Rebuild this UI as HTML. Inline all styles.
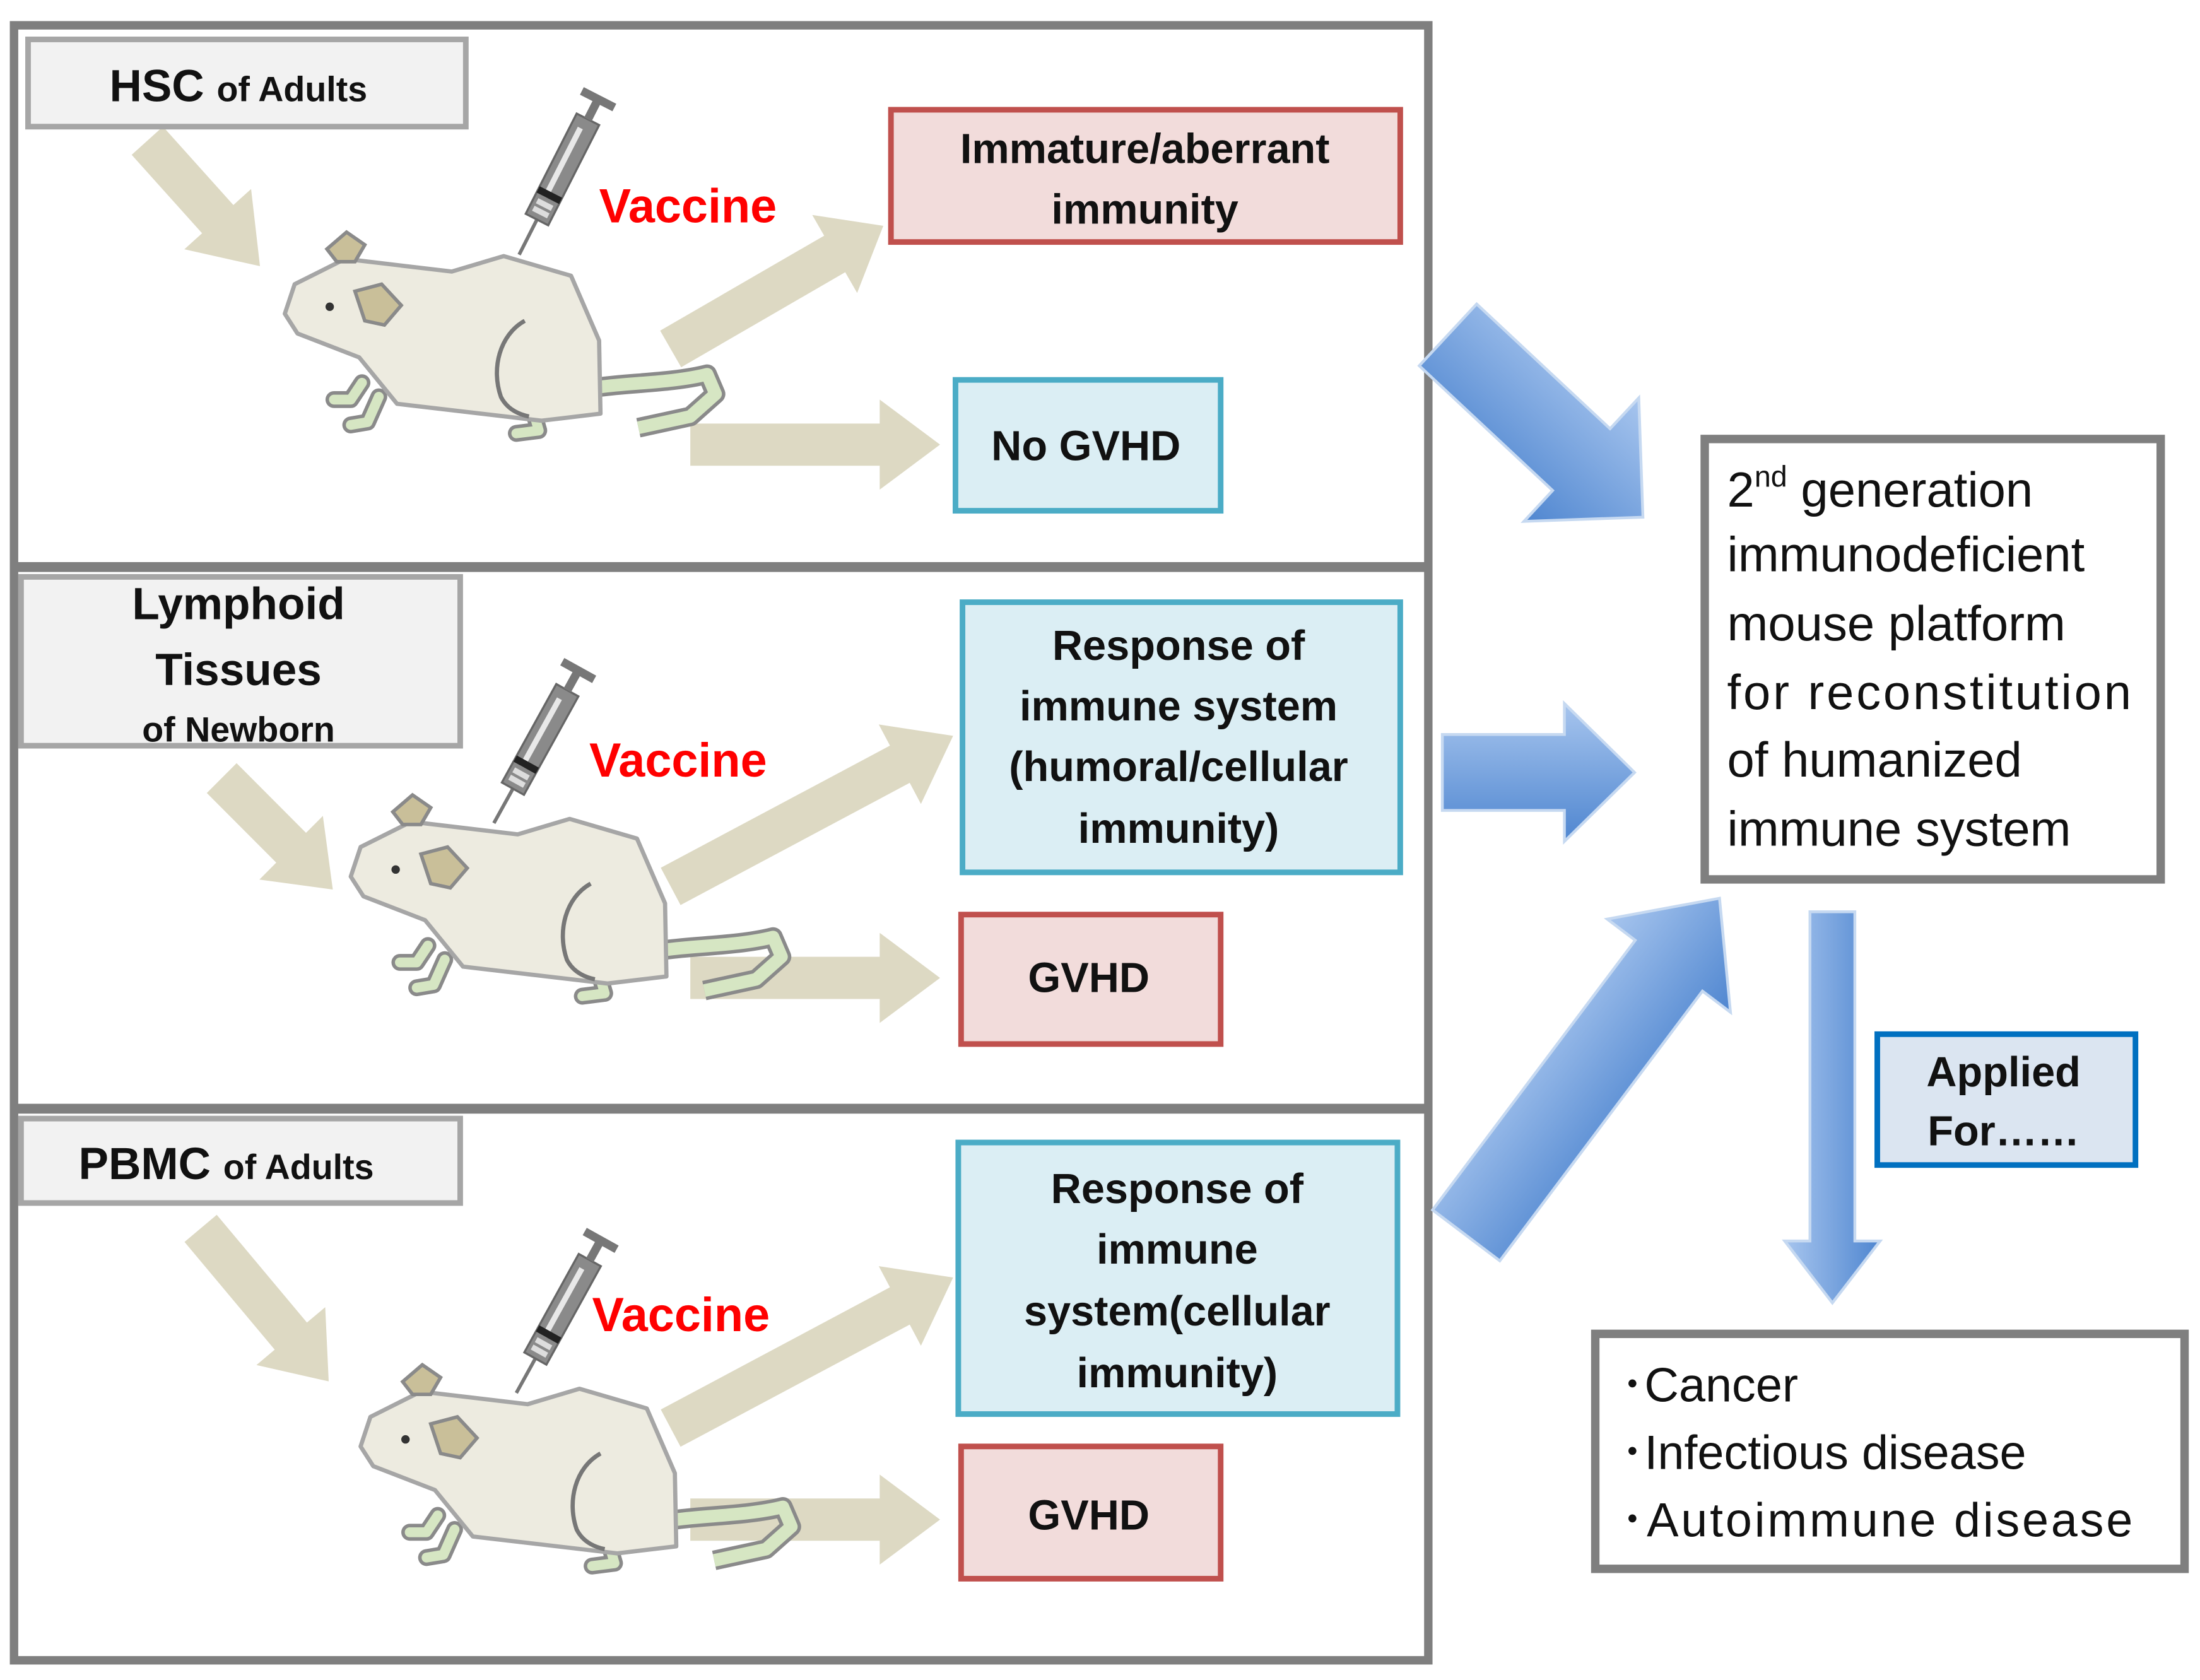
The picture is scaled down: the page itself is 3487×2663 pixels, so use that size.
<!DOCTYPE html>
<html><head><meta charset="utf-8"><style>
html,body{margin:0;padding:0;background:#fff}
svg{display:block}
text{font-family:"Liberation Sans",sans-serif}
</style></head><body>
<svg width="3487" height="2663" viewBox="0 0 1568 1194" preserveAspectRatio="none" xmlns="http://www.w3.org/2000/svg">
<defs>
<linearGradient id="bg" x1="0" y1="0" x2="0" y2="1"><stop offset="0" stop-color="#a7c5ee"/><stop offset="1" stop-color="#4f86d0"/></linearGradient>
<linearGradient id="bgh" x1="0" y1="0" x2="1" y2="0"><stop offset="0" stop-color="#a7c5ee"/><stop offset="1" stop-color="#4f86d0"/></linearGradient>
<g id="mouse">
  <path d="M428,275 C450,272 480,272 504,266 L510,280 L492,296 L455,304" fill="none" stroke="#8a8a8a" stroke-width="14" stroke-linejoin="round"/>
  <path d="M428,275 C450,272 480,272 504,266 L510,280 L492,296 L455,304" fill="none" stroke="#d6e6c3" stroke-width="9" stroke-linejoin="round"/>
  <path d="M258,272 L250,284 L238,284 M270,282 L262,300 L250,302 M380,292 L384,306 L368,308" fill="none" stroke="#8a8a8a" stroke-width="12" stroke-linejoin="round" stroke-linecap="round"/>
  <path d="M258,272 L250,284 L238,284 M270,282 L262,300 L250,302 M380,292 L384,306 L368,308" fill="none" stroke="#d6e6c3" stroke-width="7" stroke-linejoin="round" stroke-linecap="round"/>
  <polygon points="203,223 210,202 246,184 322,193 359,182 407,196 427,242 428,294 386,299 283,287 256,254 212,237" fill="#edebe0" stroke="#a6a6a6" stroke-width="3" stroke-linejoin="round"/>
  <polygon points="233,177 247,165 260,174 253,186 240,186" fill="#c9bf99" stroke="#8a8a8a" stroke-width="2.5"/>
  <polygon points="253,207 272,202 286,217 274,231 260,228" fill="#c9bf99" stroke="#8a8a8a" stroke-width="2.5"/>
  <circle cx="235" cy="218" r="3" fill="#333"/>
  <path d="M374,228 C356,238 350,262 357,282 C362,292 372,295 377,296" fill="none" stroke="#777" stroke-width="3"/>
</g>
<g id="syr">
  <line x1="0" y1="0" x2="0" y2="-28" stroke="#777" stroke-width="2.5"/>
  <rect x="-9" y="-108" width="18" height="80" fill="#8a8a8a" stroke="#666" stroke-width="1.5"/>
  <rect x="-4" y="-100" width="4" height="55" fill="#e8e8e8"/>
  <rect x="-9" y="-50" width="18" height="5" fill="#222"/>
  <rect x="-6" y="-42" width="12" height="4" fill="#ddd"/>
  <rect x="-6" y="-36" width="12" height="4" fill="#ddd"/>
  <rect x="-3" y="-122" width="6" height="14" fill="#777"/>
  <rect x="-13" y="-127" width="26" height="6" fill="#777"/>
</g>
</defs>

<rect x="10" y="18" width="1008" height="1162" fill="none" stroke="#7f7f7f" stroke-width="6"/>
<line x1="10" y1="403" x2="1018" y2="403" stroke="#7f7f7f" stroke-width="7"/>
<line x1="10" y1="788" x2="1018" y2="788" stroke="#7f7f7f" stroke-width="7"/>

<g fill="#ddd9c3">
<polygon transform="translate(105,100) rotate(48)" points="0,-15 75,-15 75,-32 120,0 75,32 75,15 0,15"/>
<polygon transform="translate(478,248) rotate(-30)" points="0,-15 135,-15 135,-32 175,0 135,32 135,15 0,15"/>
<polygon transform="translate(492,316)" points="0,-15 135,-15 135,-32 178,0 135,32 135,15 0,15"/>
<polygon transform="translate(158,553) rotate(45)" points="0,-15 70,-15 70,-32 112,0 70,32 70,15 0,15"/>
<polygon transform="translate(478,630) rotate(-28)" points="0,-15 185,-15 185,-32 228,0 185,32 185,15 0,15"/>
<polygon transform="translate(492,695)" points="0,-15 135,-15 135,-32 178,0 135,32 135,15 0,15"/>
<polygon transform="translate(143,873) rotate(50)" points="0,-15 100,-15 100,-32 142,0 100,32 100,15 0,15"/>
<polygon transform="translate(478,1015) rotate(-28)" points="0,-15 185,-15 185,-32 228,0 185,32 185,15 0,15"/>
<polygon transform="translate(492,1080)" points="0,-15 135,-15 135,-32 178,0 135,32 135,15 0,15"/>
</g>

<use href="#mouse"/>
<use href="#mouse" transform="translate(47,400)"/>
<use href="#mouse" transform="translate(54,805)"/>
<use href="#syr" transform="translate(370,181) rotate(27)"/>
<use href="#syr" transform="translate(352,585) rotate(29)"/>
<use href="#syr" transform="translate(368,990) rotate(29)"/>

<rect x="20" y="28" width="312" height="62" fill="#f2f2f2" stroke="#a6a6a6" stroke-width="4"/>
<text x="78" y="72" font-size="32" font-weight="bold" fill="#111">HSC <tspan font-size="25">of Adults</tspan></text>
<rect x="15" y="410" width="313" height="120" fill="#f2f2f2" stroke="#a6a6a6" stroke-width="4"/>
<text x="170" y="440" font-size="32" font-weight="bold" text-anchor="middle" fill="#111">Lymphoid</text>
<text x="170" y="487" font-size="32" font-weight="bold" text-anchor="middle" fill="#111">Tissues</text>
<text x="170" y="527" font-size="25" font-weight="bold" text-anchor="middle" fill="#111">of Newborn</text>
<rect x="15" y="795" width="313" height="60" fill="#f2f2f2" stroke="#a6a6a6" stroke-width="4"/>
<text x="56" y="838" font-size="32" font-weight="bold" fill="#111">PBMC <tspan font-size="25">of Adults</tspan></text>

<g font-size="34" font-weight="bold" fill="#ff0000">
<text x="427" y="158">Vaccine</text>
<text x="420" y="552">Vaccine</text>
<text x="422" y="946">Vaccine</text>
</g>

<g stroke-width="4">
<rect x="635" y="78" width="363" height="94" fill="#f2dcdb" stroke="#c0504d"/>
<rect x="681" y="270" width="189" height="93" fill="#dbeef4" stroke="#4bacc6"/>
<rect x="686" y="428" width="312" height="192" fill="#dbeef4" stroke="#4bacc6"/>
<rect x="685" y="650" width="185" height="92" fill="#f2dcdb" stroke="#c0504d"/>
<rect x="683" y="812" width="313" height="193" fill="#dbeef4" stroke="#4bacc6"/>
<rect x="685" y="1028" width="185" height="94" fill="#f2dcdb" stroke="#c0504d"/>
</g>
<g font-size="30" font-weight="bold" fill="#111" text-anchor="middle">
<text x="816" y="116">Immature/aberrant</text>
<text x="816" y="159">immunity</text>
<text x="774" y="327">No GVHD</text>
<text x="840" y="469">Response of</text>
<text x="840" y="512">immune system</text>
<text x="840" y="555">(humoral/cellular</text>
<text x="840" y="599">immunity)</text>
<text x="776" y="705">GVHD</text>
<text x="839" y="855">Response of</text>
<text x="839" y="898">immune</text>
<text x="839" y="942">system(cellular</text>
<text x="839" y="986">immunity)</text>
<text x="776" y="1087">GVHD</text>
</g>

<g stroke="#c6d9f1" stroke-width="2">
<polygon transform="translate(1032,238) rotate(43)" points="0,-30 130,-30 130,-60 190,0 130,60 130,30 0,30" fill="url(#bg)"/>
<polygon points="1028,522 1115,522 1115,500 1165,549 1115,598 1115,576 1028,576" fill="url(#bg)"/>
<polygon transform="translate(1045,878) rotate(-53)" points="0,-30 240,-30 240,-55 300,0 240,55 240,30 0,30" fill="url(#bg)"/>
<polygon points="1290,648 1322,648 1322,882 1340,882 1306,926 1272,882 1290,882" fill="url(#bgh)"/>
</g>

<rect x="1215" y="312" width="325" height="313" fill="#fff" stroke="#7f7f7f" stroke-width="6"/>
<g font-size="35" fill="#111">
<text x="1231" y="360">2<tspan font-size="21" dy="-14">nd</tspan><tspan dy="14"> generation</tspan></text>
<text x="1231" y="406">immunodeficient</text>
<text x="1231" y="455">mouse platform</text>
<text x="1231" y="504" textLength="288">for reconstitution</text>
<text x="1231" y="552">of humanized</text>
<text x="1231" y="601">immune system</text>
</g>
<rect x="1338" y="735" width="184" height="93" fill="#dbe5f1" stroke="#0070c0" stroke-width="4"/>
<text x="1428" y="772" font-size="30" font-weight="bold" text-anchor="middle" fill="#111">Applied</text>
<text x="1428" y="814" font-size="30" font-weight="bold" text-anchor="middle" fill="#111">For……</text>
<rect x="1137" y="948" width="420" height="167" fill="#fff" stroke="#7f7f7f" stroke-width="6"/>
<g font-size="34" fill="#111">
<text x="1155" y="996">･Cancer</text>
<text x="1155" y="1044">･Infectious disease</text>
<text x="1155" y="1092" textLength="365">･Autoimmune disease</text>
</g>
</svg>
</body></html>
